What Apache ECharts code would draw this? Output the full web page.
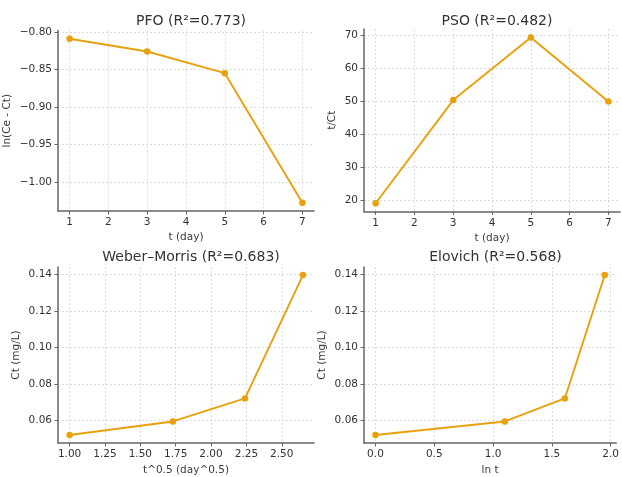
<!DOCTYPE html>
<html>
<head>
<meta charset="utf-8">
<script src="https://cdn.jsdelivr.net/npm/echarts@6/dist/echarts.min.js"></script>
<style>
  html, body { margin: 0; padding: 0; background: #fff; }
  #chart { width: 622px; height: 477px; }
</style>
</head>
<body>
<div id="chart"></div>
<script>
// kinetic data
var tDays = [1, 3, 5, 7];
var pfoY = [-0.809, -0.826, -0.855, -1.028];
var psoY = [19.2, 50.4, 69.3, 50.0];
var sqrtT = [1.00, 1.73, 2.24, 2.65];
var lnT = [0.00, 1.10, 1.61, 1.95];
var ct = [0.052, 0.0594, 0.072, 0.1396];

var titles = ['PFO (R\u00b2=0.773)', 'PSO (R\u00b2=0.482)', 'Weber\u2013Morris (R\u00b2=0.683)', 'Elovich (R\u00b2=0.568)'];
var xTicksDay = [1, 2, 3, 4, 5, 6, 7];
var yTicksPfo = [-0.80, -0.85, -0.90, -0.95, -1.00];
var yTicksPso = [20, 30, 40, 50, 60, 70];
var xTicksSqrt = [1.00, 1.25, 1.50, 1.75, 2.00, 2.25, 2.50];
var xTicksLn = [0.0, 0.5, 1.0, 1.5, 2.0];
var yTicksCt = [0.06, 0.08, 0.10, 0.12, 0.14];

var color = '#E8A10C';
var font = 'DejaVu Sans';

function pair(xs, ys) {
  return xs.map(function (x, i) { return [x, ys[i]]; });
}
function fmt(d) {
  return function (v) { return v.toFixed(d).replace('-', '\u2212'); };
}

function axis(gi, min, max, ticks, formatter, name, gap) {
  return {
    type: 'value',
    gridIndex: gi,
    min: min,
    max: max,
    name: name,
    nameLocation: 'middle',
    nameGap: gap,
    nameTextStyle: { fontFamily: font, fontSize: 10.5, color: '#3a3a3a' },
    axisLine: { show: true, onZero: false, lineStyle: { color: '#666', width: 1.5 } },
    axisTick: { show: true, length: 3.5, customValues: ticks, lineStyle: { color: '#666' } },
    axisLabel: { customValues: ticks, formatter: formatter, fontFamily: font, fontSize: 10.5, color: '#333', margin: 6 },
    splitLine: { show: true, lineStyle: { color: '#d4d4d4', type: [2, 2], width: 0.8 } }
  };
}

var grids = [
  { left: 58, top: 30.5, width: 256, height: 180.5 },
  { left: 364, top: 29, width: 256, height: 182.5 },
  { left: 58, top: 267, width: 256, height: 180 },
  { left: 364, top: 267, width: 253, height: 180 }
];

var option = {
  animation: false,
  backgroundColor: '#fff',
  title: titles.map(function (t, i) {
    return {
      text: t,
      left: grids[i].left + grids[i].width / 2,
      textAlign: 'center',
      top: i < 2 ? 9 : 245,
      textStyle: { fontFamily: font, fontSize: 14, fontWeight: 'normal', color: '#333' }
    };
  }),
  grid: grids,
  xAxis: [
    axis(0, 0.7, 7.3, xTicksDay, fmt(0), 't (day)', 21),
    axis(1, 0.7, 7.3, xTicksDay, fmt(0), 't (day)', 21),
    axis(2, 0.918, 2.728, xTicksSqrt, fmt(2), 't^0.5 (day^0.5)', 22),
    axis(3, -0.0975, 2.0475, xTicksLn, fmt(1), 'ln t', 22)
  ],
  yAxis: [
    axis(0, -1.039, -0.798, yTicksPfo, fmt(2), 'ln(Ce - Ct)', 45),
    axis(1, 16.7, 71.9, yTicksPso, fmt(0), 't/Ct', 26),
    axis(2, 0.0476, 0.144, yTicksCt, fmt(2), 'Ct (mg/L)', 36),
    axis(3, 0.0476, 0.144, yTicksCt, fmt(2), 'Ct (mg/L)', 36)
  ],
  series: [
    pair(tDays, pfoY), pair(tDays, psoY), pair(sqrtT, ct), pair(lnT, ct)
  ].map(function (d, i) {
    return {
      type: 'line',
      xAxisIndex: i,
      yAxisIndex: i,
      data: d,
      symbol: 'circle',
      symbolSize: 6.5,
      lineStyle: { color: color, width: 1.9 },
      itemStyle: { color: color }
    };
  })
};

echarts.init(document.getElementById('chart')).setOption(option);
</script>
</body>
</html>
